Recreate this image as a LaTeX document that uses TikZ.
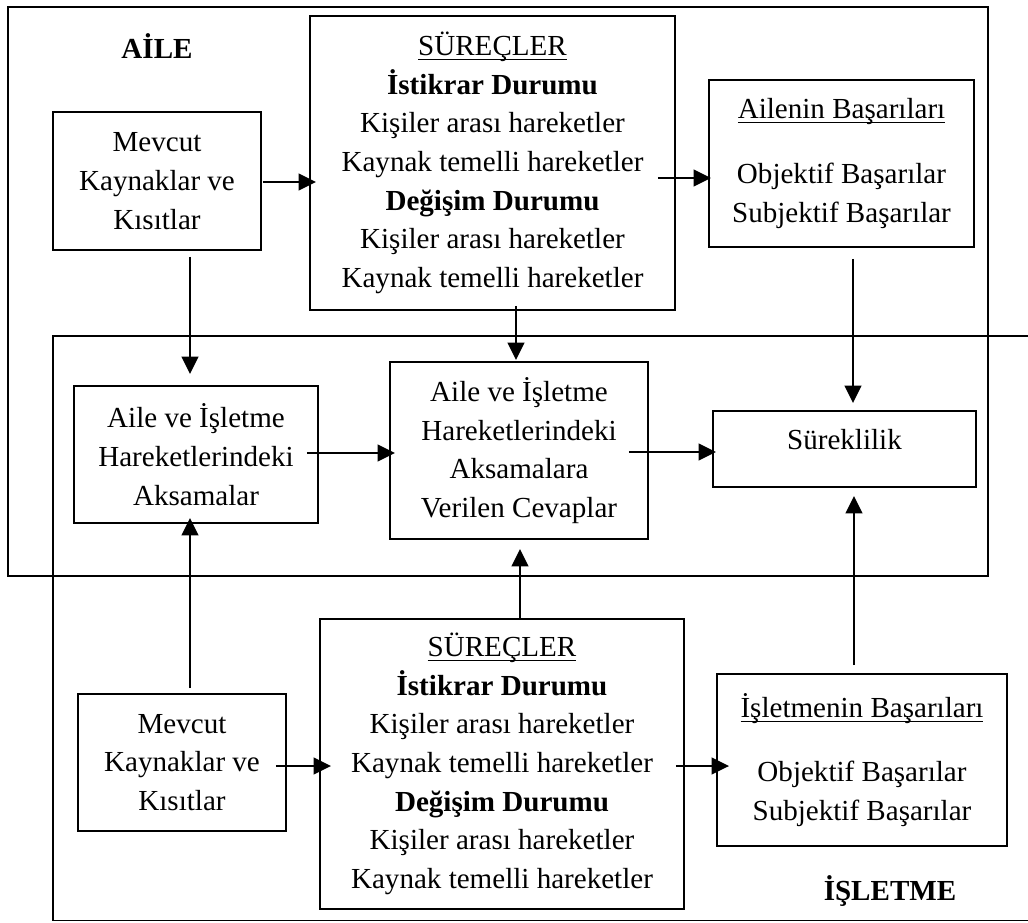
\documentclass[tikz,border=0pt]{standalone}
\usepackage{fontspec}
\setmainfont{Liberation Serif}
\usetikzlibrary{arrows.meta}
% underline at a fixed distance below the baseline
\newcommand\undl[1]{\setbox0\hbox{#1}\rlap{\rule[-3.6pt]{\wd0}{0.9pt}}\box0}
\tikzset{
  box/.style={draw, line width=1.45pt, rectangle, align=center, inner sep=0pt,
    font=\fontsize{21.8}{29}\selectfont},
  frame/.style={draw, line width=1.45pt, rectangle, inner sep=0pt},
  arr/.style={line width=1.45pt, -{Triangle[length=13pt,width=12.5pt]}},
  ttl/.style={font=\fontsize{21.8}{29}\selectfont\bfseries, inner sep=0pt}
}
\begin{document}
\begin{tikzpicture}[x=0.75pt,y=-0.75pt]
\useasboundingbox (0,0) rectangle (1028,922);
% family frame and business frame (the latter open on the right)
\node[frame, minimum width=735pt, minimum height=426.75pt] (famframe) at (498,291.5) {};
\coordinate (bt1) at (1030,336);
\coordinate (bt2) at (53,336);
\coordinate (bt3) at (53,920.5);
\coordinate (bt4) at (1030,920.5);
\draw[line width=1.45pt] (bt1) -- (bt2) -- (bt3) -- (bt4);

\node[ttl] (aile) at (157,46) {AİLE};
\node[ttl] (isl) at (890,891) {İŞLETME};

% family side
\node[box, minimum width=156pt, minimum height=103.5pt] (mev1) at (157,181)
  {Mevcut\\Kaynaklar ve\\Kısıtlar};
\node[box, minimum width=273.75pt, minimum height=220.5pt] (sur1) at (492.5,163)
  {\undl{SÜREÇLER}\\\textbf{İstikrar Durumu}\\Kişiler arası hareketler\\Kaynak temelli hareketler\\\textbf{Değişim Durumu}\\Kişiler arası hareketler\\Kaynak temelli hareketler};
\node[box, minimum width=198.75pt, minimum height=125.25pt] (ail1) at (841.5,163.5)
  {\undl{Ailenin Başarıları}\\[20pt]Objektif Başarılar\\Subjektif Başarılar};

% middle row
\node[box, minimum width=183pt, minimum height=102.75pt] (aks) at (196,454.5)
  {Aile ve İşletme\\Hareketlerindeki\\Aksamalar};
\node[box, minimum width=193.5pt, minimum height=132.75pt] (cev) at (519,450.5)
  {Aile ve İşletme\\Hareketlerindeki\\Aksamalara\\Verilen Cevaplar};
\node[box, minimum width=197.25pt, minimum height=57pt, text height=15pt, text depth=15pt] (sur) at (844.5,449)
  {Süreklilik};

% business side
\node[box, minimum width=156pt, minimum height=102.75pt] (mev2) at (182,762.5)
  {Mevcut\\Kaynaklar ve\\Kısıtlar};
\node[box, minimum width=273pt, minimum height=217.5pt] (sur2) at (502,764)
  {\undl{SÜREÇLER}\\\textbf{İstikrar Durumu}\\Kişiler arası hareketler\\Kaynak temelli hareketler\\\textbf{Değişim Durumu}\\Kişiler arası hareketler\\Kaynak temelli hareketler};
\node[box, minimum width=217.5pt, minimum height=129pt] (isb) at (862,760)
  {\undl{İşletmenin Başarıları}\\[19pt]Objektif Başarılar\\Subjektif Başarılar};

% connectors
\draw[arr] ([shift={(1,1)}]mev1.east) -- ([shift={(7,19)}]sur1.west);
\coordinate (s2) at ([shift={(-18,15)}]sur1.east);
\draw[arr] (s2) -- ([shift={(3,15)}]sur1.east -| ail1.west);
\draw[arr] ([shift={(33,6)}]mev1.south) -- ([shift={(-6,-11)}]aks.north);
\draw[arr] ([shift={(23.5,-5)}]sur1.south) -- ([shift={(-3,-1)}]cev.north);
\draw[arr] ([shift={(11.5,11)}]ail1.south) -- ([shift={(8.5,-7)}]sur.north);
\draw[arr] ([shift={(-12,-1.5)}]aks.east) -- ([shift={(6,2.5)}]cev.west);
\draw[arr] ([shift={(-20,1.5)}]cev.east) -- ([shift={(4,3)}]sur.west);
\draw[arr] ([shift={(8,-5)}]mev2.north) -- ([shift={(-6,-6)}]aks.south);
\draw[arr] ([shift={(18,0)}]sur2.north) -- ([shift={(1,9)}]cev.south);
\draw[arr] ([shift={(-8,-8)}]isb.north) -- ([shift={(9.5,8)}]sur.south);
\draw[arr] ([shift={(-11,3.5)}]mev2.east) -- ([shift={(12,2)}]sur2.west);
\draw[arr] ([shift={(-9,2)}]sur2.east) -- ([shift={(13,6)}]isb.west);
\end{tikzpicture}
\end{document}
